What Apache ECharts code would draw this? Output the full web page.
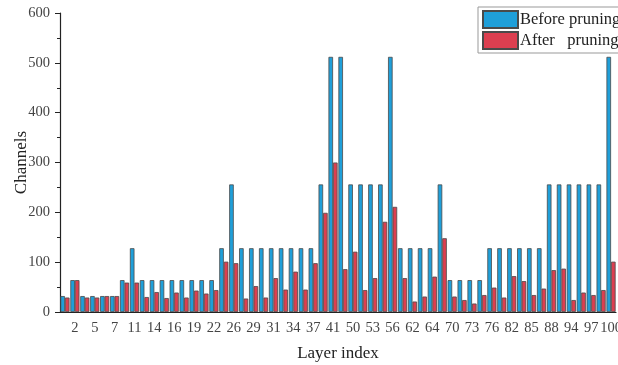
<!DOCTYPE html>
<html>
<head>
<meta charset="utf-8">
<script src="https://cdn.jsdelivr.net/npm/echarts@6/dist/echarts.min.js"></script>
<style>
  html, body { margin: 0; padding: 0; background: #fff; }
  #chart { width: 618px; height: 365px; }
</style>
</head>
<body>
<div id="chart"></div>
<script>
// Layer indices; only every second one carries a printed label.
const layers = [
  '1', '2', '4', '5', '6', '7', '9', '11', '12', '14', '15', '16', '18', '19',
  '20', '22', '24', '26', '28', '29', '30', '31', '33', '34', '36', '37', '39', '41',
  '46', '50', '52', '53', '55', '56', '59', '62', '63', '64', '67', '70', '72', '73',
  '75', '76', '80', '82', '84', '85', '87', '88', '91', '94', '96', '97', '99', '100'
];

// Channel counts per layer before pruning.
const beforePruning = [
  32, 64, 32, 32, 32, 32, 64, 128, 64, 64, 64, 64, 64, 64,
  64, 64, 128, 256, 128, 128, 128, 128, 128, 128, 128, 128, 256, 512,
  512, 256, 256, 256, 256, 512, 128, 128, 128, 128, 256, 64, 64, 64,
  64, 128, 128, 128, 128, 128, 128, 256, 256, 256, 256, 256, 256, 512
];

// Channel counts per layer after pruning.
const afterPruning = [
  29, 64, 29, 29, 32, 32, 59, 59, 30, 40, 28, 39, 29, 43,
  37, 44, 101, 98, 27, 52, 29, 68, 45, 81, 45, 98, 199, 300,
  86, 121, 44, 68, 181, 211, 68, 21, 31, 71, 148, 31, 24, 17,
  34, 49, 29, 72, 62, 34, 47, 84, 87, 24, 39, 34, 44, 101
];

const yTicks = { min: 0, max: 600, step: 100 };

const serif = 'Liberation Serif';
const labelled = (idx) => idx % 2 === 1;

const chart = echarts.init(document.getElementById('chart'), null, { renderer: 'canvas' });
chart.setOption({
  animation: false,
  backgroundColor: '#ffffff',
  grid: { left: 60, right: 2, top: 13, bottom: 53, containLabel: false, outerBoundsMode: 'none' },
  legend: {
    orient: 'vertical',
    left: 478,
    top: 7,
    padding: [3, 4, 3, 4],
    itemGap: 2,
    itemWidth: 35,
    itemHeight: 17,
    icon: 'rect',
    borderColor: '#999',
    borderWidth: 1,
    textStyle: { fontFamily: serif, fontSize: 16.5, color: '#222', padding: [0, 0, 0, -3] },
    data: ['Before pruning', 'After   pruning']
  },
  xAxis: {
    type: 'category',
    data: layers,
    name: 'Layer index',
    nameLocation: 'middle',
    nameGap: 33,
    nameMoveOverlap: false,
    nameTextStyle: { fontFamily: serif, fontSize: 17, color: '#222' },
    axisLine: { lineStyle: { color: '#222', width: 1.2 } },
    axisTick: { interval: labelled, length: 5, lineStyle: { color: '#222' } },
    axisLabel: { interval: labelled, fontFamily: serif, fontSize: 14.5, color: '#444', margin: 9 }
  },
  yAxis: {
    type: 'value',
    min: yTicks.min,
    max: yTicks.max,
    interval: yTicks.step,
    name: 'Channels',
    nameLocation: 'middle',
    nameGap: 30,
    nameMoveOverlap: false,
    nameRotate: 90,
    nameTextStyle: { fontFamily: serif, fontSize: 17, color: '#222' },
    axisLine: { show: true, lineStyle: { color: '#222', width: 1.2 } },
    axisTick: { show: true, length: 5, lineStyle: { color: '#222' } },
    minorTick: { show: true, splitNumber: 2, length: 3, lineStyle: { color: '#222' } },
    splitLine: { show: false },
    axisLabel: { fontFamily: serif, fontSize: 14.5, color: '#444', margin: 10 }
  },
  series: [
    {
      name: 'Before pruning',
      type: 'bar',
      data: beforePruning,
      barGap: '0%',
      barCategoryGap: '8%',
      itemStyle: { color: '#1f9fd9', borderColor: '#4a4a4a', borderWidth: 0.8 }
    },
    {
      name: 'After   pruning',
      type: 'bar',
      data: afterPruning,
      itemStyle: { color: '#dc3f50', borderColor: '#4a4a4a', borderWidth: 0.8 }
    }
  ]
});
</script>
</body>
</html>
